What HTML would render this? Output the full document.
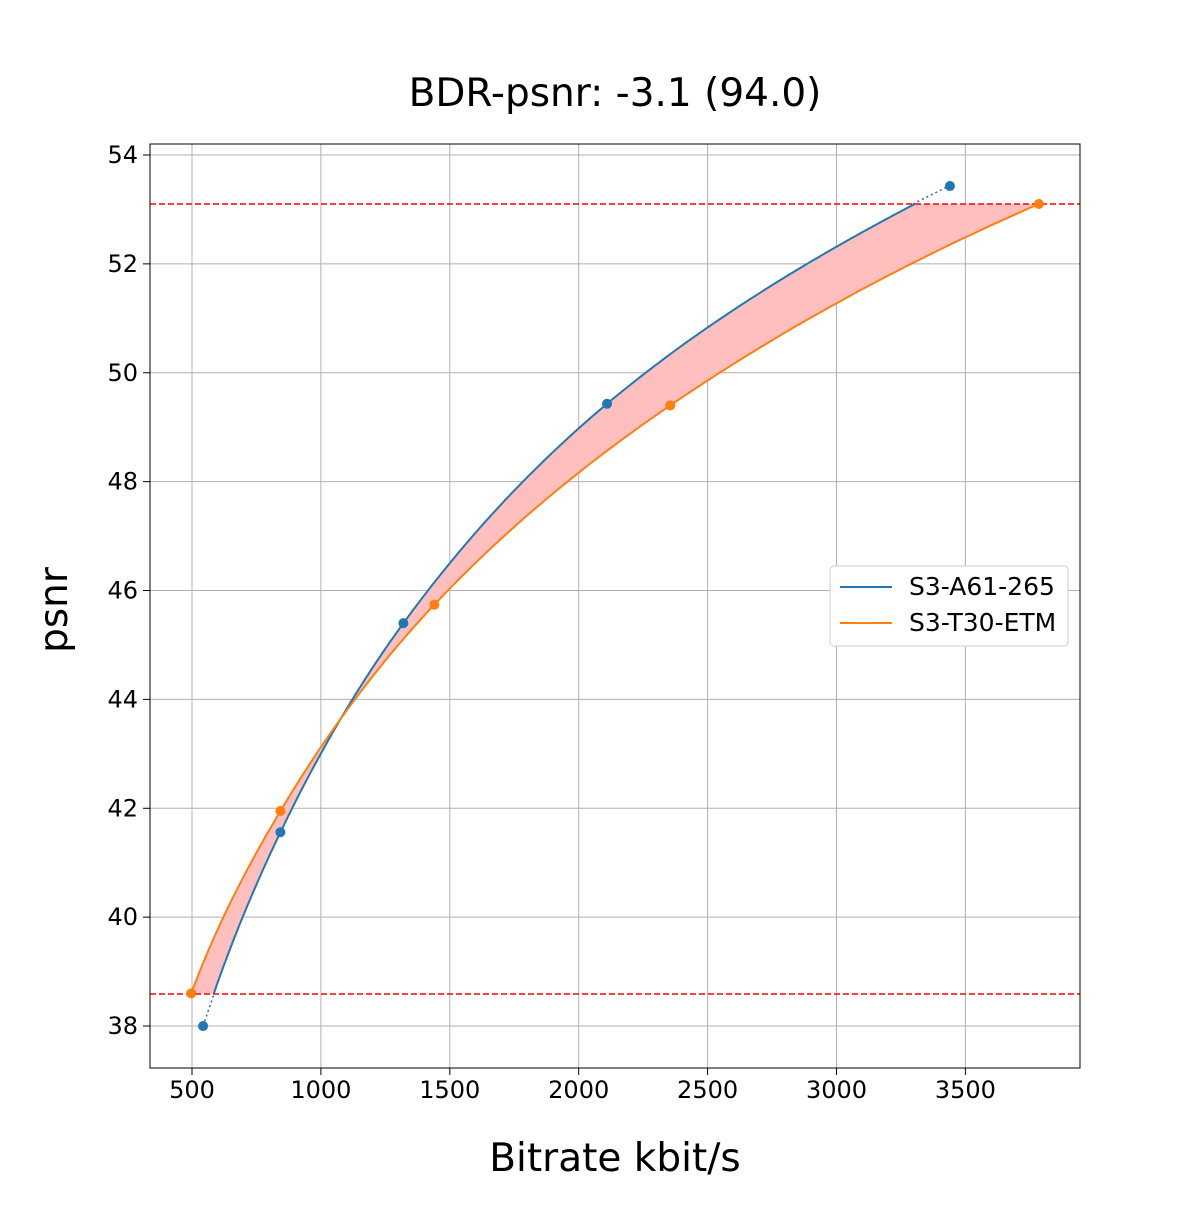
<!DOCTYPE html>
<html><head><meta charset="utf-8"><style>
body{margin:0;background:#fff}
text{font-family:"DejaVu Sans","Liberation Sans",sans-serif;fill:#000}
</style></head><body>
<svg id="s" width="1200" height="1200" xmlns="http://www.w3.org/2000/svg">
<rect width="1200" height="1200" fill="#fff"/>
<g id="grid" stroke="#b0b0b0" stroke-width="1"></g>
<path id="fill" fill="#ffbfbf" stroke="none"/>
<line x1="150" x2="1080" y1="204" y2="204" stroke="red" stroke-width="1.6" stroke-dasharray="6,3"/>
<line x1="150" x2="1080" y1="994" y2="994" stroke="red" stroke-width="1.6" stroke-dasharray="6,3"/>
<path id="bl" fill="none" stroke="#1f77b4" stroke-width="2"/>
<path id="or" fill="none" stroke="#ff7f0e" stroke-width="2"/>
<line x1="203" y1="1026" x2="214" y2="994" stroke="#1f77b4" stroke-width="1.6" stroke-dasharray="2,3"/>
<line x1="913" y1="204" x2="949" y2="186" stroke="#1f77b4" stroke-width="1.6" stroke-dasharray="2,3"/>
<g id="pts"></g>
<rect x="150" y="144" width="930" height="924" fill="none" stroke="#000" stroke-width="1"/>
<g id="ticks" stroke="#000"></g>
<g id="lbl" font-size="24"></g>
<text x="615" y="106" font-size="39" text-anchor="middle">BDR-psnr: -3.1 (94.0)</text>
<text x="615" y="1171" font-size="39" text-anchor="middle">Bitrate kbit/s</text>
<text transform="translate(67,610) rotate(-90)" font-size="39" text-anchor="middle">psnr</text>
<rect x="830" y="566" width="238" height="80" rx="4" fill="#fff" stroke="#ccc"/>
<line x1="840" x2="892" y1="587" y2="587" stroke="#1f77b4" stroke-width="2"/>
<line x1="840" x2="892" y1="623" y2="623" stroke="#ff7f0e" stroke-width="2"/>
<text x="909" y="595" font-size="25">S3-A61-265</text>
<text x="909" y="631" font-size="25">S3-T30-ETM</text>
</svg>
<script>
const X=v=>192+(v-500)*0.2578, Y=v=>155+(54-v)*54.44;
const NS="http://www.w3.org/2000/svg";
function el(p,t,a,txt){const e=document.createElementNS(NS,t);for(const k in a)e.setAttribute(k,a[k]);if(txt)e.textContent=txt;document.getElementById(p).appendChild(e);}
for(let v=500;v<=3500;v+=500){const x=X(v);el('grid','line',{x1:x,x2:x,y1:144,y2:1068});el('ticks','line',{x1:x,x2:x,y1:1068,y2:1075});el('lbl','text',{x:x,y:1098,'text-anchor':'middle'},v);}
for(let v=38;v<=54;v+=2){const y=Y(v);el('grid','line',{x1:150,x2:1080,y1:y,y2:y});el('ticks','line',{x1:143,x2:150,y1:y,y2:y});el('lbl','text',{x:138,y:y+8,'text-anchor':'end'},v);}
const B=[[543,38.0],[843,41.56],[1320,45.4],[2110,49.43],[3440,53.43]];
const O=[[497,38.6],[843,41.95],[1440,45.74],[2355,49.4],[3785,53.1]];
function interp(P,q){
 const p=P.map(a=>[a[1],Math.log(a[0])]);let i=0;while(i<p.length-2&&q>p[i+1][0])i++;
 const p0=p[Math.max(i-1,0)],p1=p[i],p2=p[i+1],p3=p[Math.min(i+2,p.length-1)];
 const h=p2[0]-p1[0],t=(q-p1[0])/h;
 const m1=(p2[1]-p0[1])/(p2[0]-p0[0])*h,m2=(p3[1]-p1[1])/(p3[0]-p1[0])*h;
 const t2=t*t,t3=t2*t;
 return (2*t3-3*t2+1)*p1[1]+(t3-2*t2+t)*m1+(-2*t3+3*t2)*p2[1]+(t3-t2)*m2;}
function curve(P){const a=[];for(let k=0;k<=200;k++){const q=38.6+(53.1-38.6)*k/200;a.push([X(Math.exp(interp(P,q))),Y(q)]);}return a;}
const cb=curve(B),co=curve(O);
const d=a=>'M'+a.map(p=>p[0].toFixed(1)+','+p[1].toFixed(1)).join('L');
document.getElementById('bl').setAttribute('d',d(cb));
document.getElementById('or').setAttribute('d',d(co));
document.getElementById('fill').setAttribute('d',d(cb.concat(co.slice().reverse()))+'Z');
B.forEach(p=>el('pts','circle',{cx:X(p[0]),cy:Y(p[1]),r:5,fill:'#1f77b4'}));
O.forEach(p=>el('pts','circle',{cx:X(p[0]),cy:Y(p[1]),r:5,fill:'#ff7f0e'}));
</script>
</body></html>
